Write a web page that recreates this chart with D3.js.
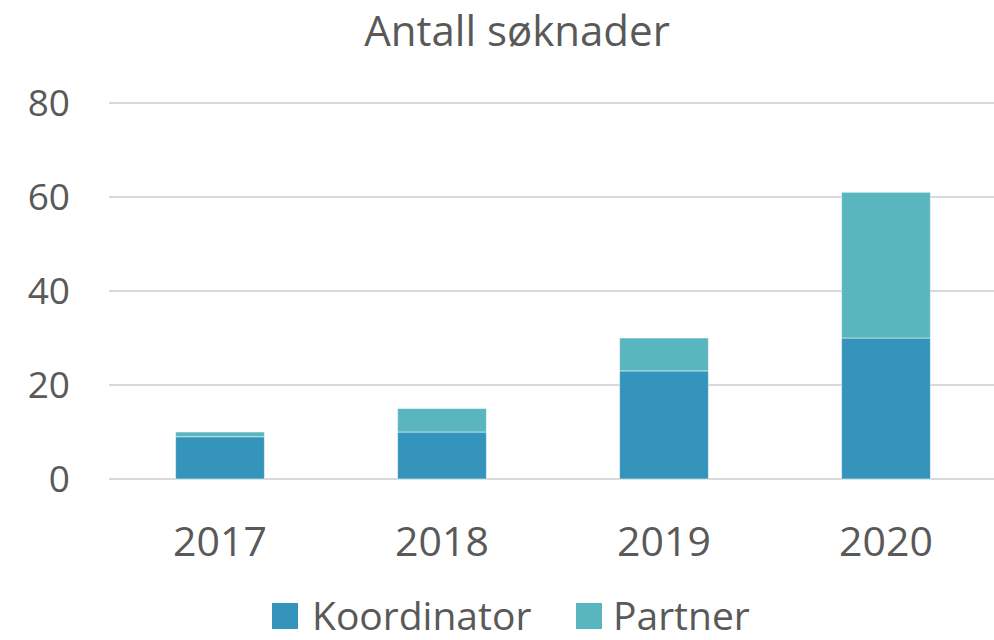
<!DOCTYPE html>
<html>
<head>
<meta charset="utf-8">
<script src="https://cdn.jsdelivr.net/npm/d3@7"></script>
<style>
  body { margin: 0; background: #fff; }
  text { font-family: "Open Sans", sans-serif; fill: #595959; }
</style>
</head>
<body>
<div id="chart"></div>
<script>
const years = ["2017", "2018", "2019", "2020"]
const koordinator = [9, 10, 23, 30]
const partner = [1, 5, 7, 31]
const seriesNames = ["Koordinator", "Partner"]
const yTicks = [0, 20, 40, 60, 80]
const colors = ["#3594bb", "#5ab6be"]

const width = 994, height = 640
const svg = d3.select("#chart").append("svg")
    .attr("width", width)
    .attr("height", height)

const x = d3.scaleBand().domain(years).range([109, 997]).paddingInner(0.6).paddingOuter(0.3)
const y = d3.scaleLinear().domain([0, 80]).range([479, 103])

// gridlines
svg.append("g")
    .selectAll("line")
    .data(yTicks)
    .join("line")
    .attr("x1", 109)
    .attr("x2", 997)
    .attr("y1", d => y(d))
    .attr("y2", d => y(d))
    .attr("stroke", "#d9d9d9")
    .attr("stroke-width", 2)

const table = years.map((yr, i) => ({ year: yr, Koordinator: koordinator[i], Partner: partner[i] }))
const stacked = d3.stack().keys(seriesNames)(table)

svg.append("g")
    .selectAll("g")
    .data(stacked)
    .join("g")
    .attr("fill", (d, i) => colors[i])
    .selectAll("rect")
    .data(d => d)
    .join("rect")
    .attr("x", d => x(d.data.year))
    .attr("width", x.bandwidth())
    .attr("y", d => y(d[1]))
    .attr("height", d => y(d[0]) - y(d[1]))
    .attr("stroke", "#ffffff")
    .attr("stroke-opacity", 0.5)
    .attr("stroke-width", 1)

// y labels
svg.append("g")
    .selectAll("text")
    .data(yTicks)
    .join("text")
    .attr("x", 70)
    .attr("y", d => y(d))
    .attr("dy", "0.36em")
    .attr("text-anchor", "end")
    .style("font-size", "37px")
    .text(d => d)

// x labels
svg.append("g")
    .selectAll("text")
    .data(years)
    .join("text")
    .attr("x", d => x(d) + x.bandwidth() / 2)
    .attr("y", 556)
    .attr("text-anchor", "middle")
    .style("font-size", "41px")
    .text(d => d)

// title
svg.append("text")
    .attr("x", 517)
    .attr("y", 46)
    .attr("text-anchor", "middle")
    .style("font-size", "42px")
    .text("Antall søknader")

// legend (lifted a few px so descenders stay inside the frame)
const legendX = [272, 576]
const legend = svg.append("g")
    .selectAll("g")
    .data(seriesNames)
    .join("g")
    .attr("transform", (d, i) => `translate(${legendX[i]},603)`)
legend.append("rect")
    .attr("width", 26)
    .attr("height", 26)
    .attr("fill", (d, i) => colors[i])
legend.append("text")
    .attr("x", (d, i) => i === 0 ? 40 : 37)
    .attr("y", 27)
    .style("font-size", "39px")
    .text(d => d)
</script>
</body>
</html>
